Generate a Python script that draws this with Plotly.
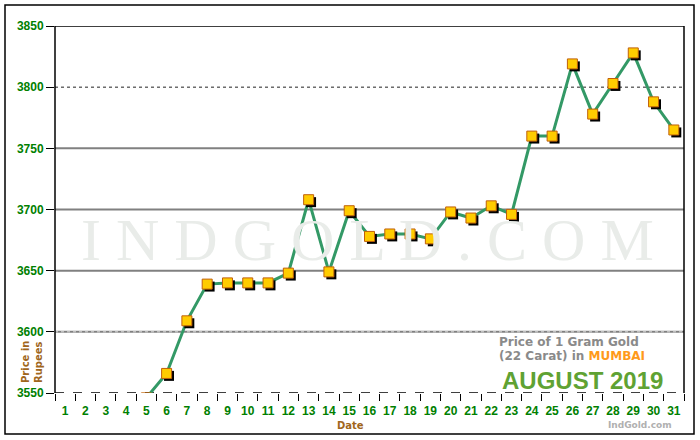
import plotly.graph_objects as go

days = [str(d) for d in range(1, 32)]
prices = [3400, 3420, 3450, 3500, 3546, 3566, 3609, 3639, 3640, 3640, 3640, 3648,
          3708, 3649, 3699, 3678, 3680, 3680, 3676, 3698, 3693, 3703, 3696, 3760,
          3760, 3819, 3778, 3803, 3828, 3788, 3765]
y_ticks = [3550, 3600, 3650, 3700, 3750, 3800, 3850]

fig = go.Figure()

# dummy trace so the category axis shows every day
fig.add_trace(go.Scatter(x=days, y=[None] * 31, mode="markers", hoverinfo="skip"))
# line
fig.add_trace(go.Scatter(x=list(range(31)), y=prices, mode="lines",
                         line=dict(color="#339966", width=3), hoverinfo="skip",
                         xaxis="x2"))
# marker shadow (small offset)
fig.add_trace(go.Scatter(x=[i + 0.12 for i in range(31)], y=[p - 2.0 for p in prices],
                         mode="markers", xaxis="x2",
                         marker=dict(symbol="square", size=10, color="black",
                                     line=dict(width=0)), hoverinfo="skip"))
# markers
fig.add_trace(go.Scatter(x=list(range(31)), y=prices, mode="markers", xaxis="x2",
                         marker=dict(symbol="square", size=10, color="#ffcc00",
                                     line=dict(color="#c0600a", width=1))))

shapes = []
styles = {3600: ("#808080", "solid", 2), 3650: ("#808080", "solid", 2),
          3700: ("#808080", "solid", 2), 3750: ("#808080", "solid", 2),
          3800: ("#222222", "dot", 1), 3850: ("black", "solid", 1.5),
          3550: ("black", "dash", 1.5)}
for v in y_ticks:
    c, d, w = styles[v]
    shapes.append(dict(type="line", xref="paper", x0=0, x1=1, yref="y", y0=v, y1=v,
                       line=dict(color=c, dash=d, width=w), layer="below"))
shapes.append(dict(type="line", xref="paper", x0=0, x1=1, yref="y", y0=3600, y1=3600,
                   line=dict(color="#dddddd", dash="dot", width=1), layer="below"))
shapes.append(dict(type="line", xref="paper", yref="paper", x0=0, x1=0, y0=0, y1=1,
                   line=dict(color="black", width=1.5)))
shapes.append(dict(type="line", xref="paper", yref="paper", x0=1, x1=1, y0=0, y1=1,
                   line=dict(color="black", width=1.5)))
l, r, t, b = 55, 16, 26, 47
pw, ph = 700 - l - r, 440 - t - b
shapes.append(dict(type="rect", xref="paper", yref="paper",
                   x0=(5 - l) / pw, x1=(694 - l) / pw,
                   y0=(440 - b - 434) / ph, y1=(440 - b - 5) / ph,
                   line=dict(color="black", width=1.5)))

def px(xp):
    return (xp - l) / pw

def py(yp):
    return (440 - b - yp) / ph

def ann(text, x, y, font, **kw):
    d = dict(text=text, x=px(x), y=py(y), xref="paper", yref="paper",
             showarrow=False, xanchor="center", yanchor="middle", font=font)
    d.update(kw)
    return d

annotations = [
    ann("I N D G O L D . C O M", 367, 240,
        dict(family="Liberation Serif", size=60, color="#e9ece9")),
    ann("<b>Price of 1 Gram Gold</b>", 569, 342,
        dict(family="DejaVu Sans", size=12, color="#8a8a8a")),
    ann("<b>(22 Carat) in <span style='color:#ff9a1a'>MUMBAI</span></b>", 572, 356,
        dict(family="DejaVu Sans", size=12, color="#8a8a8a")),
    ann("<b>AUGUST 2019</b>", 582, 380,
        dict(family="Liberation Sans", size=24, color="#5fa233")),
    ann("<b>IndGold.com</b>", 640, 425,
        dict(family="DejaVu Sans", size=9, color="#b0b0b0")),
    ann("<b>Price in</b>", 25, 362,
        dict(family="DejaVu Sans", size=10, color="#a0661c"), textangle=-90),
    ann("<b>Rupees</b>", 38, 362,
        dict(family="DejaVu Sans", size=10, color="#a0661c"), textangle=-90),
    ann("<b>Date</b>", 350, 425,
        dict(family="DejaVu Sans", size=10, color="#a0661c")),
]

fig.update_layout(
    width=700, height=440, margin=dict(l=l, r=r, t=t, b=b, autoexpand=False),
    paper_bgcolor="white", plot_bgcolor="white", showlegend=False,
    xaxis=dict(type="category", categoryorder="array", categoryarray=days,
               tickvals=days, ticktext=days, range=[-0.5, 30.5], tickangle=0,
               tickson="boundaries", ticks="outside", ticklen=7, tickcolor="black",
               ticklabelstandoff=9,
               showgrid=False, zeroline=False, showline=False,
               tickfont=dict(family="Liberation Sans", size=12, color="#008000",
                             weight="bold")),
    xaxis2=dict(overlaying="x", range=[-0.5, 30.5], visible=False),
    yaxis=dict(range=[3550, 3850], tickvals=y_ticks, ticks="outside", ticklen=8,
               tickcolor="black", showgrid=False, zeroline=False, showline=False,
               tickfont=dict(family="Liberation Sans", size=12, color="#008000",
                             weight="bold")),
    shapes=shapes, annotations=annotations,
)

fig.write_html("out.html", config={"displayModeBar": False},
               post_script="document.body.style.margin='0';")
